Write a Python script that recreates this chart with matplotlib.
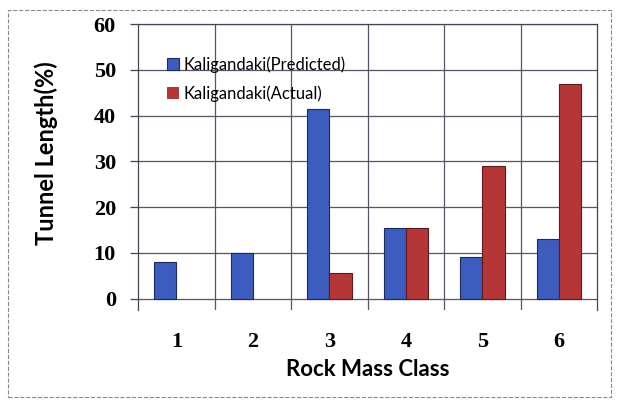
import matplotlib.pyplot as plt
from matplotlib.patches import Rectangle

# data
classes = [1, 2, 3, 4, 5, 6]
predicted = [8, 10, 41.5, 15.5, 9, 13]
actual = [0, 0, 5.5, 15.5, 29, 47]
series_names = ["Kaligandaki(Predicted)", "Kaligandaki(Actual)"]

blue = "#3d5cbf"
red = "#b53636"
w = 0.29

fig = plt.figure(figsize=(6.17, 4.01), dpi=100)
ax = fig.add_axes([0.224, 0.227, 0.744, 0.713])

ax.bar([c - w for c in classes], predicted, width=w, align="edge",
       color=blue, edgecolor="#1c2a5c",
       linewidth=[0.8 if v > 0 else 0 for v in predicted],
       label=series_names[0], zorder=3)
ax.bar(classes, actual, width=w, align="edge",
       color=red, edgecolor="#5c1a1a",
       linewidth=[0.8 if v > 0 else 0 for v in actual],
       label=series_names[1], zorder=3)

ax.set_xlim(0.5, 6.5)
ax.set_ylim(-2.5, 60)
ax.set_yticks(range(0, 61, 10))
ax.set_xticks(classes)
ax.set_xticks([1.5, 2.5, 3.5, 4.5, 5.5], minor=True)

ax.grid(axis="y", color="#555566", linewidth=0.9, zorder=0)
ax.grid(axis="x", which="minor", color="#555566", linewidth=0.9, zorder=0)
ax.spines["bottom"].set_visible(False)
for s in ["left", "right", "top"]:
    ax.spines[s].set_color("#444455")
    ax.spines[s].set_linewidth(0.9)

ax.tick_params(axis="y", length=6, width=0.9, color="#444455", pad=10)
ax.tick_params(axis="x", which="both", length=0, pad=16)
for lab in ax.get_yticklabels() + ax.get_xticklabels():
    lab.set_fontfamily("Liberation Serif")
    lab.set_fontweight("bold")
    lab.set_fontsize(16)

ax.set_ylabel("Tunnel Length(%)", fontfamily="Lato", fontweight="bold", fontsize=17)
ax.yaxis.set_label_coords(-0.175, 0.55)
ax.set_xlabel("Rock Mass Class", fontfamily="Lato", fontweight="bold", fontsize=16, labelpad=5)

ax.legend(loc="upper left", bbox_to_anchor=(0.03, 0.94), frameon=False,
          prop={"family": "Lato", "size": 12}, handlelength=0.7, handleheight=0.7,
          handletextpad=0.3, labelspacing=0.75)

# dashed frame of the scanned chart
fig.patches.append(Rectangle((0.013, 0.01), 0.978, 0.965, transform=fig.transFigure,
                             fill=False, linestyle="--", linewidth=0.8, edgecolor="#888888"))

fig.savefig("out.png", dpi=100)
